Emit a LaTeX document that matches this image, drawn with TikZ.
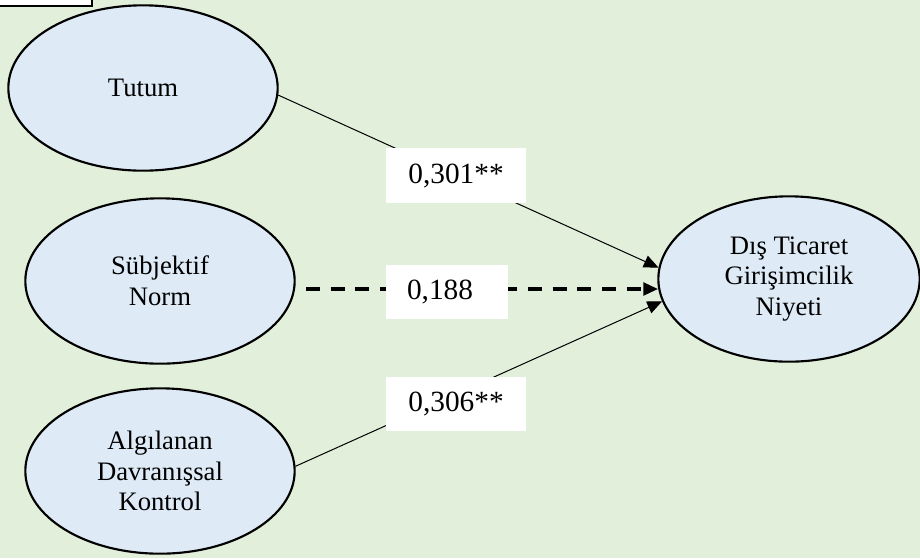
\documentclass[tikz,border=0pt]{standalone}
\usepackage{fontspec}
\setmainfont{Liberation Serif}
\usetikzlibrary{shapes.geometric,arrows.meta}
\definecolor{bggreen}{HTML}{E2EFDA}
\definecolor{ellblue}{HTML}{DEEBF7}
\tikzset{
  ell/.style={ellipse, draw=black, line width=1.6pt, fill=ellblue, inner sep=0pt,
    minimum width=202pt, minimum height=124pt, align=center,
    font=\fontsize{20pt}{23pt}\selectfont},
  lbl/.style={rectangle, fill=white, inner sep=0pt, minimum width=105pt, minimum height=41pt,
    font=\fontsize{22pt}{26pt}\selectfont},
  arr/.style={line width=0.75pt, -{Triangle[length=11pt,width=9.5pt]}},
  dasharr/.style={line width=2.3pt, dash pattern=on 10.5pt off 8pt, -{Triangle[length=11pt,width=9.5pt]}}
}
\begin{document}
\begin{tikzpicture}[x=0.75pt,y=-0.75pt]
\useasboundingbox (0,0) rectangle (920,558);
\fill[bggreen] (0,0) rectangle (920,558);
\draw[fill=white, line width=1.2pt] (-5,-10) rectangle (92,6);
% ellipses
\node[ell] (tut) at (143,88) {Tutum};
\node[ell] (sub) at (160,281) {Sübjektif\\Norm};
\node[ell] (alg) at (160,471) {Algılanan\\Davranışsal\\Kontrol};
\node[ell, minimum width=196pt] (dti) at (789,279) {Dış Ticaret\\Girişimcilik\\Niyeti};
% connectors
\coordinate (dstart) at (306,289);
\draw[arr] (tut.-3.4) -- (dti.175);
\draw[dasharr] (dstart) -- (dstart -| dti.184.4);
\draw[arr] (alg.2.5) -- (dti.190.9);
% labels
\node[lbl] (l1) at (456,175.5) {0,301**};
\node[lbl, minimum width=91.5pt, minimum height=40pt] (l2) at (447,292) {\hspace*{-10.5pt}0,188};
\node[lbl, minimum height=40.5pt] (l3) at (456,404) {0,306**};
\end{tikzpicture}
\end{document}
